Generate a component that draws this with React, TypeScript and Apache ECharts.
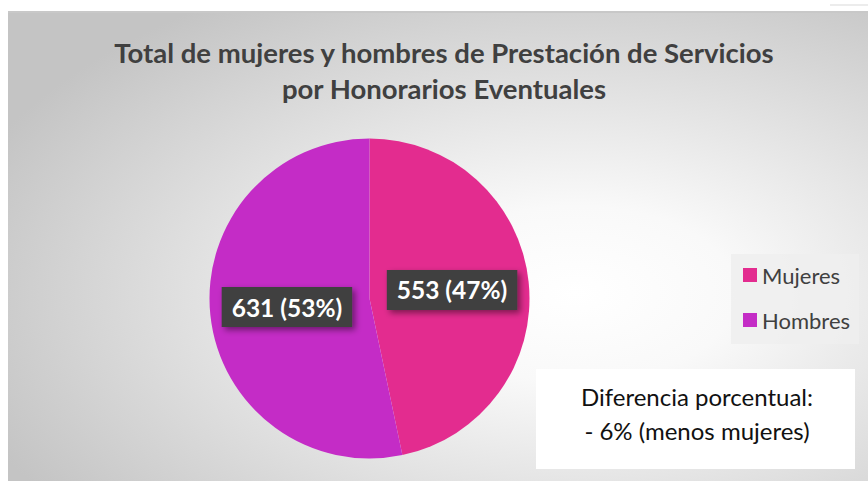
import React, { useEffect, useRef } from "react";
import * as echarts from "echarts";

const categories = ["Mujeres", "Hombres"];
const values = [553, 631];
const percents = ["47%", "53%"];
const colors = ["#E32C8F", "#C42CC6"];
const titleLines = [
  "Total de mujeres y hombres de Prestación de Servicios",
  "por Honorarios Eventuales",
];
const noteLines = ["Diferencia porcentual:", "- 6% (menos mujeres)"];

export default function App() {
  const ref = useRef<HTMLDivElement>(null);
  useEffect(() => {
    if (!ref.current) return;
    const chart = echarts.init(ref.current, null, { renderer: "svg" });
    const font = "Lato, 'Open Sans', sans-serif";
    chart.setOption({
      animation: false,
      backgroundColor: "#ffffff",
      graphic: [
        {
          type: "rect",
          z: -10,
          shape: { x: 8, y: 13, width: 860, height: 468 },
          style: {
            fill: new echarts.graphic.RadialGradient(0.66, 0.6, 0.75, [
              { offset: 0, color: "#ffffff" },
              { offset: 0.25, color: "#f9f9f9" },
              { offset: 1, color: "#c4c4c4" },
            ]),
          },
        },
        {
          type: "rect",
          z: -9,
          shape: { x: 8, y: 11, width: 860, height: 2 },
          style: { fill: "#c8c8c8" },
        },
        {
          type: "rect",
          shape: { x: 830, y: 4, width: 38, height: 2 },
          style: { fill: "#ececec" },
        },
        {
          type: "text",
          x: 444,
          y: 52,
          style: {
            text: titleLines[0],
            font: `bold 27.5px ${font}`,
            fill: "#404040",
            textAlign: "center",
            textVerticalAlign: "middle",
          },
        },
        {
          type: "text",
          x: 444,
          y: 88,
          style: {
            text: titleLines[1],
            font: `bold 27.5px ${font}`,
            fill: "#404040",
            textAlign: "center",
            textVerticalAlign: "middle",
          },
        },
        {
          type: "rect",
          z: 1,
          shape: { x: 731, y: 254, width: 128, height: 90 },
          style: { fill: "rgba(238,238,238,0.85)" },
        },
        {
          type: "rect",
          z: 1,
          shape: { x: 536, y: 369, width: 319, height: 100 },
          style: { fill: "#ffffff" },
        },
        {
          type: "text",
          z: 2,
          x: 697,
          y: 396,
          style: {
            text: noteLines[0],
            font: `24px ${font}`,
            fill: "#111111",
            textAlign: "center",
            textVerticalAlign: "middle",
          },
        },
        {
          type: "text",
          z: 2,
          x: 697,
          y: 430,
          style: {
            text: noteLines[1],
            font: `24px ${font}`,
            fill: "#111111",
            textAlign: "center",
            textVerticalAlign: "middle",
          },
        },
      ],
      legend: {
        orient: "vertical",
        left: 743,
        top: 263,
        padding: 0,
        itemWidth: 14,
        itemHeight: 14,
        itemGap: 21,
        icon: "rect",
        data: categories,
        textStyle: {
          fontSize: 22,
          lineHeight: 24,
          color: "#404040",
          fontFamily: font,
        },
        z: 5,
      },
      series: [
        {
          type: "pie",
          center: [369.5, 298.5],
          radius: [0, 160],
          startAngle: 90,
          clockwise: true,
          label: {
            show: true,
            position: "inside",
            formatter: (p: any) => `${p.value} (${percents[p.dataIndex]})`,
            color: "#ffffff",
            fontWeight: "bold",
            fontSize: 24.5,
            lineHeight: 30,
            fontFamily: font,
            backgroundColor: "#3f3f3f",
            padding: [6, 10, 4, 10],
            shadowColor: "rgba(0,0,0,0.45)",
            shadowBlur: 6,
            shadowOffsetX: 3,
            shadowOffsetY: 3,
          },
          labelLine: { show: false },
          emphasis: { disabled: true },
          itemStyle: { borderWidth: 0 },
          data: categories.map((c, i) => ({
            name: c,
            value: values[i],
            itemStyle: { color: colors[i] },
          })),
        },
      ],
    });
    return () => chart.dispose();
  }, []);
  return (
    <div
      ref={ref}
      style={{ position: "fixed", left: 0, top: 0, width: 868, height: 481 }}
    />
  );
}
